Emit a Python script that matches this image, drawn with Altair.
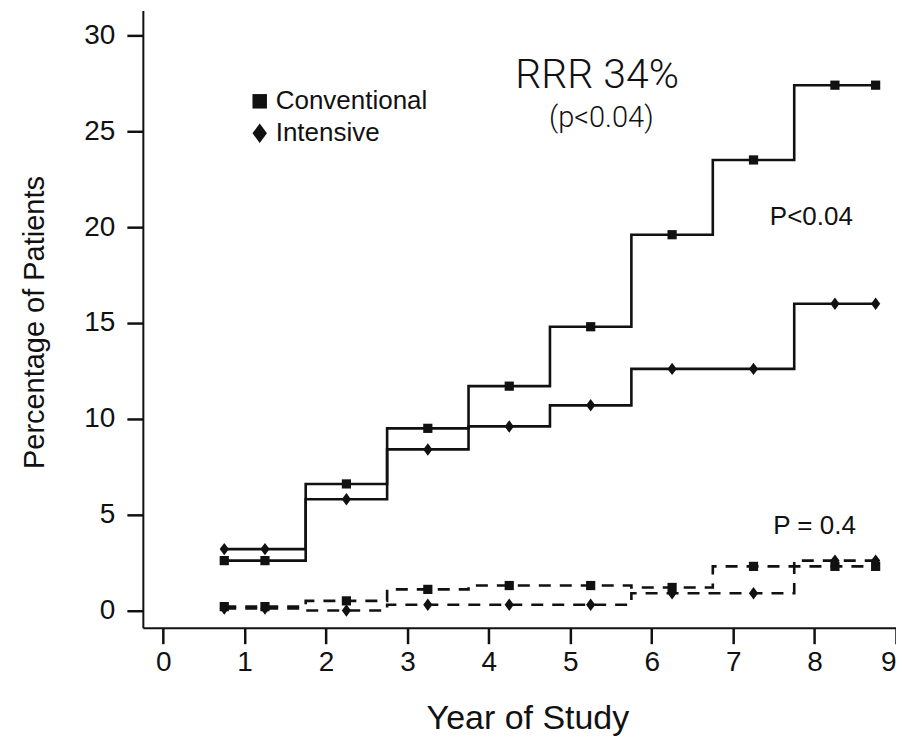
import altair as alt
import pandas as pd

# year at which each marker sits (steps fall half way between markers)
years = [0.75, 1.25, 2.25, 3.25, 4.25, 5.25, 6.25, 7.25, 8.25, 8.75]

# upper pair of curves (solid)
conv_solid = [2.6, 2.6, 6.6, 9.5, 11.7, 14.8, 19.6, 23.5, 27.4, 27.4]
int_solid = [3.2, 3.2, 5.8, 8.4, 9.6, 10.7, 12.6, 12.6, 16.0, 16.0]

# lower pair of curves (dashed)
conv_dashed = [0.2, 0.2, 0.5, 1.1, 1.3, 1.3, 1.2, 2.3, 2.3, 2.3]
int_dashed = [0.1, 0.1, 0.0, 0.3, 0.3, 0.3, 0.9, 0.9, 2.6, 2.6]

groups = ["Conventional", "Intensive"]

x_ticks = [0, 1, 2, 3, 4, 5, 6, 7, 8, 9]
y_ticks = [0, 5, 10, 15, 20, 25, 30]

# annotations
big_text = ["RRR 34%"]
big_x = [5.33]
big_y = [27.9]
sub_text = ["(p<0.04)"]
sub_x = [5.38]
sub_y = [25.7]
p_text = ["P<0.04", "P = 0.4"]
p_x = [7.96, 8.0]
p_y = [20.5, 4.4]

rows = []
for group, style, vals in [
    ("Conventional", "solid", conv_solid),
    ("Intensive", "solid", int_solid),
    ("Conventional", "dashed", conv_dashed),
    ("Intensive", "dashed", int_dashed),
]:
    for yr, v in zip(years, vals):
        rows.append({"year": yr, "pct": v, "group": group, "style": style,
                     "series": f"{group}-{style}"})
df = pd.DataFrame(rows)

ink = "#111111"
font = "Liberation Sans"
diamond = "M0,-1.35L1,0L0,1.35L-1,0Z"

x_scale = alt.Scale(domain=[-0.25, 9.0], nice=False, zero=False)
y_scale = alt.Scale(domain=[-0.9, 31.3], nice=False, zero=False)

x_enc = alt.X("year:Q", scale=x_scale, axis=alt.Axis(
    values=x_ticks, format="d", title="Year of Study", titleX=385, titleY=91,
    titleBaseline="middle", titleFontSize=34, labelPadding=5))
y_enc = alt.Y("pct:Q", scale=y_scale, axis=alt.Axis(
    values=y_ticks, format="d", title="Percentage of Patients", titleX=-108,
    titleY=312, titleAngle=-90, titleAlign="center", titleBaseline="middle",
    titleFontSize=29, labelPadding=12))

base = alt.Chart(df).encode(x=x_enc, y=y_enc)

solid = base.transform_filter(alt.datum.style == "solid").mark_line(
    interpolate="step", color=ink, strokeWidth=2.6
).encode(detail="series:N")

dashed = base.transform_filter(alt.datum.style == "dashed").mark_line(
    interpolate="step", color=ink, strokeWidth=2.6, strokeDash=[12, 9]
).encode(detail="series:N")

points = base.mark_point(filled=True, color=ink, opacity=1, size=85).encode(
    shape=alt.Shape("group:N",
        scale=alt.Scale(domain=groups, range=["square", diamond]),
        legend=alt.Legend(title=None, orient="none", legendX=104, legendY=78,
                          labelFont=font, labelFontSize=26, labelColor=ink,
                          symbolSize=210, rowPadding=6, labelOffset=3))
)

big = alt.Chart(pd.DataFrame({"x": big_x, "y": big_y, "t": big_text})).mark_text(
    font="Roboto", fontWeight=300, fontSize=41, color=ink
).encode(x=alt.X("x:Q", scale=x_scale), y=alt.Y("y:Q", scale=y_scale), text="t:N")

sub = alt.Chart(pd.DataFrame({"x": sub_x, "y": sub_y, "t": sub_text})).mark_text(
    font="Roboto", fontWeight=300, fontSize=29, color=ink
).encode(x=alt.X("x:Q", scale=x_scale), y=alt.Y("y:Q", scale=y_scale), text="t:N")

pvals = alt.Chart(pd.DataFrame({"x": p_x, "y": p_y, "t": p_text})).mark_text(
    font=font, fontSize=26, color=ink
).encode(x=alt.X("x:Q", scale=x_scale), y=alt.Y("y:Q", scale=y_scale), text="t:N")

chart = alt.layer(solid, dashed, points, big, sub, pvals).properties(
    width=754, height=618,
    autosize=alt.AutoSizeParams(type="none"),
    padding={"left": 135, "top": 2, "right": 0, "bottom": 110},
).configure_view(stroke=None).configure_axis(
    grid=False, domainColor=ink, domainWidth=2, tickColor=ink, tickWidth=2.5,
    tickSize=16, labelFont=font, labelFontSize=28, labelColor=ink,
    titleFont=font, titleFontWeight="normal", titleColor=ink,
)

chart.save("out.html", embed_options={"renderer": "svg", "actions": False})
